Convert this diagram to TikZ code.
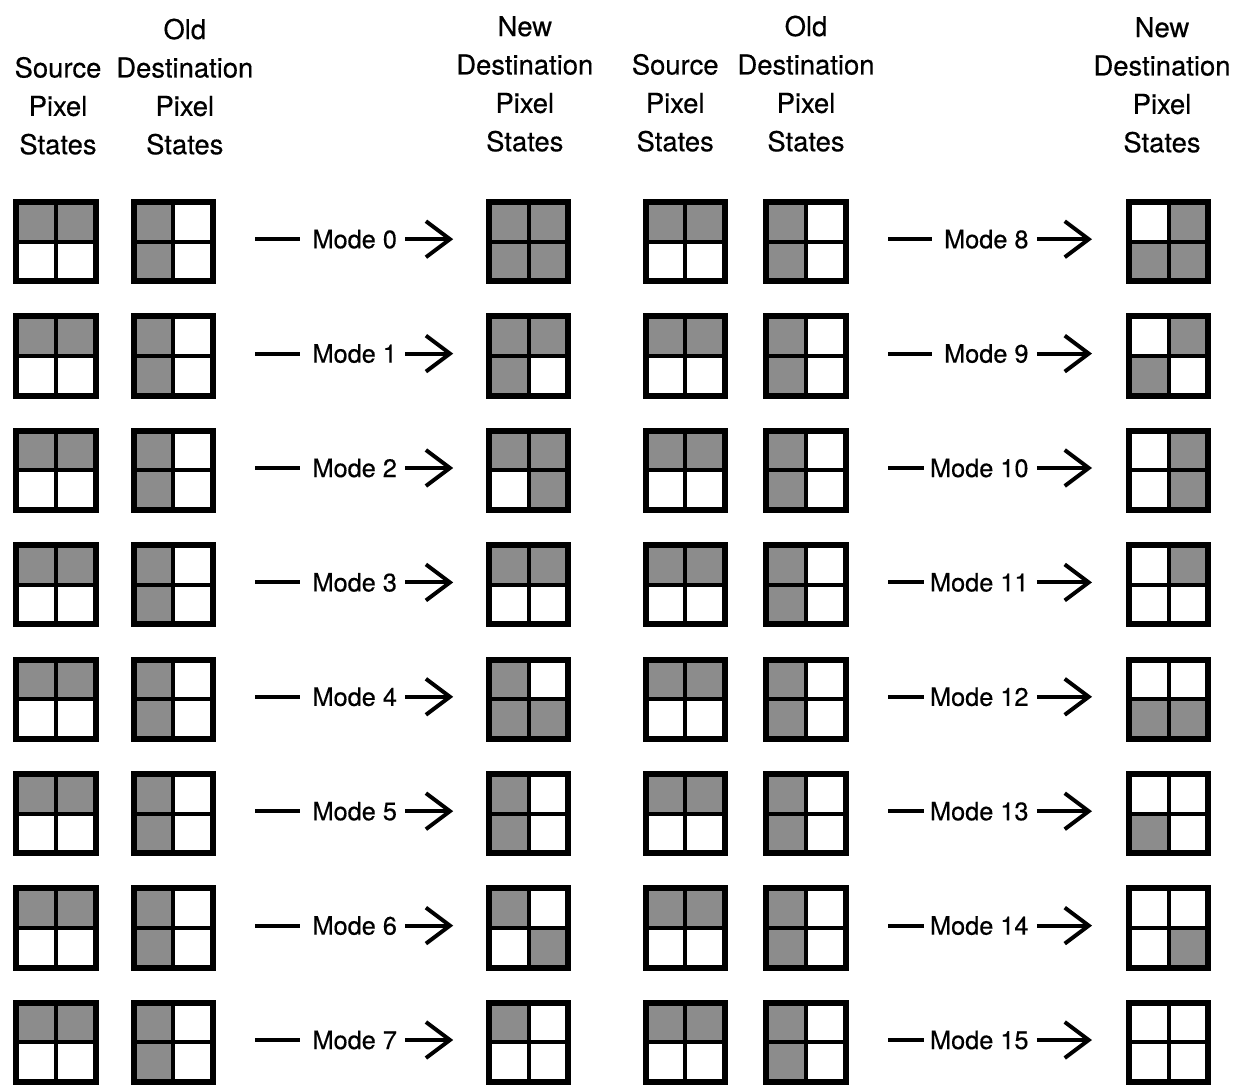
\documentclass[tikz,border=0pt]{standalone}
\usepackage{fontspec}
\setmainfont{TeX Gyre Heros}[FakeBold=0.4]
\usetikzlibrary{arrows.meta}

% a 2x2 block of pixels: name, centre, then the four quadrants tl tr bl br (1 = set)
\newcommand{\pixbox}[6]{%
  \node[pix] (#1) at (#2) {};
  \ifnum#3=1 \fill[dot] (#1.north west) rectangle (#1.center);\fi
  \ifnum#4=1 \fill[dot] (#1.north) rectangle (#1.east);\fi
  \ifnum#5=1 \fill[dot] (#1.west) rectangle (#1.south);\fi
  \ifnum#6=1 \fill[dot] (#1.center) rectangle (#1.south east);\fi
  \draw[rule] (#1.north) -- (#1.south) (#1.west) -- (#1.east);
  \draw[rim] (#1.north west) rectangle (#1.south east);
}

\begin{document}
\begin{tikzpicture}[font=\fontsize{19.5}{27.3}\selectfont,
  pix/.style={minimum size=1.98cm,inner sep=0pt,outer sep=0pt},
  dot/.style={fill=black!45},
  rule/.style={line width=2.8pt},
  rim/.style={line width=4.2pt},
  hd/.style={align=center,inner sep=0pt,anchor=south},
  md/.style={font=\fontsize{18}{22}\selectfont,inner sep=0pt,anchor=east},
  bar/.style={line width=2.8pt},
  arr/.style={line width=2.8pt,-{Straight Barb[length=0.6cm,width=0.9cm]}}]
\useasboundingbox (0,0) rectangle (31,-27.125);

% column heads
\node[hd] (hs1) at (1.45,-3.875)  {Source\\Pixel\\States};
\node[hd] (ho1) at (4.62,-3.875)  {Old\\Destination\\Pixel\\States};
\node[hd] (hn1) at (13.12,-3.80)  {New\\Destination\\Pixel\\States};
\node[hd] (hs2) at (16.88,-3.80)  {Source\\Pixel\\States};
\node[hd] (ho2) at (20.15,-3.80)  {Old\\Destination\\Pixel\\States};
\node[hd] (hn2) at (29.05,-3.825) {New\\Destination\\Pixel\\States};

% modes 0-7 on the left, 8-15 on the right
\foreach \r in {0,...,7} {
  \pgfmathsetmacro\y{-6.04-2.86*\r}
  \foreach \h/\xs/\xo/\xl/\xd/\xa/\xn in {0/1.40/4.33/9.93/6.375/11.33/13.22,
                                         1/17.13/20.15/25.72/22.2/27.3/29.22} {
    \pgfmathtruncatemacro\m{\r+8*\h}
    \pgfmathtruncatemacro\qa{1-int(\m/8)}
    \pgfmathtruncatemacro\qb{1-mod(int(\m/4),2)}
    \pgfmathtruncatemacro\qc{1-mod(int(\m/2),2)}
    \pgfmathtruncatemacro\qd{1-mod(\m,2)}
    \pixbox{src\m}{\xs,\y}{1}{1}{0}{0}
    \pixbox{old\m}{\xo,\y}{1}{0}{1}{0}
    \pixbox{new\m}{\xn,\y}{\qa}{\qb}{\qc}{\qd}
    \node[md] (md\m) at (\xl,\y+0.06) {Mode \m};
    \coordinate (d\m) at (\xd,\y+0.06);
    \coordinate (a\m) at (\xa,\y+0.06);
    \ifnum\m>9 \def\gap{0.15cm}\else\def\gap{0.3cm}\fi
    \draw[bar] (d\m) -- ([xshift=-\gap]md\m.west);
    \draw[arr] ([xshift=0.2cm]md\m.east) -- (a\m);
  }
}
\end{tikzpicture}
\end{document}
